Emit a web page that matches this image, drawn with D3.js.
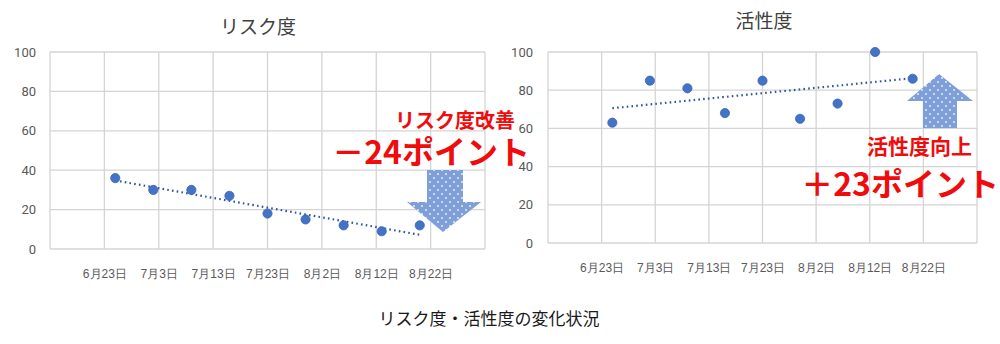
<!DOCTYPE html>
<html><head><meta charset="utf-8">
<script src="https://cdn.jsdelivr.net/npm/d3@7"></script>
<style>
html,body{margin:0;padding:0;background:#fff;}
svg{display:block;font-family:"Noto Sans CJK JP","Noto Sans",sans-serif;}
</style></head>
<body><svg id="c" width="1000" height="344"></svg>
<script>
// ---- data ----
const pointDates = ["2020-06-25","2020-07-02","2020-07-09","2020-07-16","2020-07-23","2020-07-30","2020-08-06","2020-08-13","2020-08-20"];
const riskValues = [36,30,30,27,18,15,12,9,12];
const activityValues = [63,85,81,68,85,65,73,100,86];
const xTickDates = ["2020-06-23","2020-07-03","2020-07-13","2020-07-23","2020-08-02","2020-08-12","2020-08-22"];
const xTickLabels = ["6月23日","7月3日","7月13日","7月23日","8月2日","8月12日","8月22日"];
const xDomain = ["2020-06-13","2020-09-01"];
const yTicks = [0,20,40,60,80,100];
const chartTitles = ["リスク度","活性度"];
const caption = "リスク度・活性度の変化状況";
const riskNotes = ["リスク度改善","－24ポイント"];
const activityNotes = ["活性度向上","＋23ポイント"];

const parse = d3.timeParse("%Y-%m-%d");
const svg = d3.select("#c");

// dotted pattern for arrows
const defs = svg.append("defs");
const pat = defs.append("pattern").attr("id","dots").attr("patternUnits","userSpaceOnUse")
  .attr("width",8).attr("height",8);
pat.append("rect").attr("width",8).attr("height",8).attr("fill","#7e9fd8");
pat.append("circle").attr("cx",2).attr("cy",2).attr("r",0.9).attr("fill","#eef3fb");
pat.append("circle").attr("cx",6).attr("cy",6).attr("r",0.9).attr("fill","#eef3fb");

function drawChart(cfg){
  const x = d3.scaleTime().domain(xDomain.map(parse)).range([cfg.x0,cfg.x1]);
  const y = d3.scaleLinear().domain([0,100]).range([cfg.y0,cfg.y1]);
  const g = svg.append("g");
  // title
  g.append("text").attr("x",cfg.tx).attr("y",cfg.ty).attr("text-anchor","middle")
    .attr("font-size",19).attr("fill","#404040").text(cfg.title);
  // horizontal gridlines
  g.selectAll(".hg").data(yTicks).enter().append("line")
    .attr("x1",cfg.x0).attr("x2",cfg.x1).attr("y1",d=>y(d)).attr("y2",d=>y(d))
    .attr("stroke","#d4d4d4").attr("stroke-width",1.3);
  // vertical gridlines (every 10 days incl. domain edges)
  const vlines = [parse(xDomain[0])].concat(xTickDates.map(parse)).concat([parse(xDomain[1])]);
  g.selectAll(".vg").data(vlines).enter().append("line")
    .attr("x1",d=>x(d)).attr("x2",d=>x(d)).attr("y1",cfg.y0).attr("y2",cfg.y1)
    .attr("stroke","#d4d4d4").attr("stroke-width",1.3);
  // y axis labels
  const ya = d3.axisLeft(y).tickValues(yTicks).tickSize(0).tickPadding(cfg.ypad);
  const yg = g.append("g").attr("transform",`translate(${cfg.x0},0)`).call(ya);
  yg.select(".domain").remove();
  yg.selectAll("text").attr("font-size",13).attr("fill","#595959").attr("font-family","Roboto,'Noto Sans',sans-serif");
  // x axis labels
  const xa = d3.axisBottom(x).tickValues(xTickDates.map(parse))
    .tickFormat((d,i)=>xTickLabels[i]).tickSize(0).tickPadding(cfg.xpad);
  const xg = g.append("g").attr("transform",`translate(0,${cfg.y0})`).call(xa);
  xg.select(".domain").remove();
  xg.selectAll("text").attr("font-size",12).attr("fill","#595959");
  // trendline (least squares)
  const xs = pointDates.map(d=>x(parse(d)).valueOf());
  const n = cfg.values.length;
  const idx = d3.range(n);
  const mi = d3.mean(idx), mv = d3.mean(cfg.values);
  const slope = d3.sum(idx,i=>(i-mi)*(cfg.values[i]-mv))/d3.sum(idx,i=>(i-mi)*(i-mi));
  const b = mv - slope*mi;
  const line = d3.line().x(i=>x(parse(pointDates[i]))).y(i=>y(b+slope*i));
  g.append("path").attr("d",line([0,n-1])).attr("fill","none")
    .attr("stroke","#2f55a4").attr("stroke-width",2.2).attr("stroke-dasharray","1.6,3.2");
  // points
  g.selectAll(".pt").data(cfg.values).enter().append("circle")
    .attr("cx",(d,i)=>x(parse(pointDates[i]))).attr("cy",d=>y(d)).attr("r",4.6)
    .attr("fill","#4472c4").attr("stroke","#3a66b8").attr("stroke-width",0.8);
}

drawChart({x0:50,x1:485,y0:249,y1:52,tx:258,ty:34,title:chartTitles[0],values:riskValues,ypad:14,xpad:20});
drawChart({x0:548,x1:977,y0:243,y1:52,tx:764,ty:28,title:chartTitles[1],values:activityValues,ypad:15,xpad:20});

// arrows
function arrow(pts){
  svg.append("path").attr("d",d3.line()(pts)+"Z").attr("fill","url(#dots)");
}
arrow([[427,170],[463,170],[463,202],[481,202],[443,232],[407,202],[427,202]]);
arrow([[939,74],[973,101],[957,101],[957,128],[923,128],[923,101],[907,101]]);

// annotations
svg.append("text").attr("x",515).attr("y",128).attr("text-anchor","end")
  .attr("font-size",20).attr("font-weight","bold").attr("fill","#f00c0c").text(riskNotes[0]);
svg.append("text").attr("x",530).attr("y",164).attr("text-anchor","end")
  .attr("font-size",32).attr("font-weight","bold").attr("fill","#f00c0c").text(riskNotes[1]);
svg.append("text").attr("x",972).attr("y",154).attr("text-anchor","end")
  .attr("font-size",21).attr("font-weight","bold").attr("fill","#f00c0c").text(activityNotes[0]);
svg.append("text").attr("x",999).attr("y",196).attr("text-anchor","end")
  .attr("font-size",32).attr("font-weight","bold").attr("fill","#f00c0c").text(activityNotes[1]);

// caption
svg.append("text").attr("x",489).attr("y",325).attr("text-anchor","middle")
  .attr("font-size",17).attr("fill","#1a1a1a").text(caption);
</script></body></html>
